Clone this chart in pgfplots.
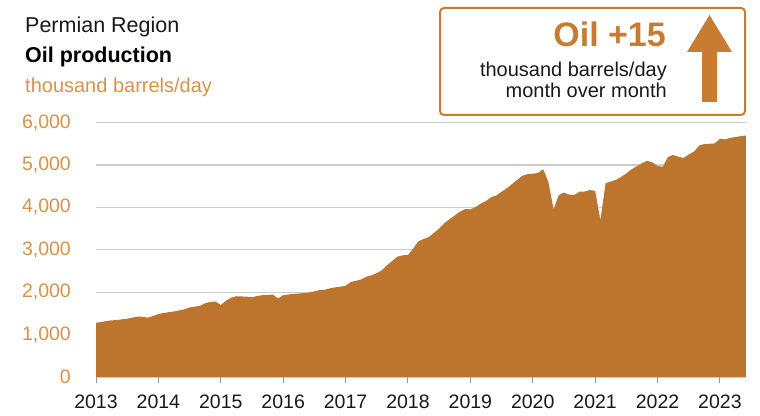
\documentclass[border=0pt]{standalone}
\usepackage{fontspec}
\setmainfont{Liberation Sans}
\usepackage{pgfplots}
\usepackage{pgfplotstable}
\pgfplotsset{compat=1.18}
\definecolor{oilfill}{RGB}{189,116,45}
\definecolor{lab}{RGB}{214,146,72}
\definecolor{boxc}{RGB}{200,124,50}
\definecolor{txt}{RGB}{25,25,25}
\pgfplotstableread{
v
1280
1295
1320
1335
1345
1360
1375
1400
1425
1420
1400
1440
1486
1510
1530
1545
1570
1596
1640
1660
1680
1740
1770
1780
1700
1800
1870
1905
1900
1895
1880
1910
1930
1935
1945
1850
1930
1945
1960
1970
1980
1990
2020
2050
2060
2090
2115
2130
2150
2240
2270
2300
2365
2400
2450
2520
2640
2740
2840
2870
2880
3030
3200
3255
3300
3400
3500
3630
3720
3810
3900
3960
3955
4010
4090
4150
4240
4280
4370
4450
4550
4650
4745
4785
4795
4810
4900
4600
3955
4290
4350
4300
4295
4370
4375
4410
4390
3700
4570
4610
4650
4720
4800
4900
4970
5040
5100
5060
4975
4960
5190
5236
5196
5165
5250
5314
5460
5495
5500
5510
5620
5605
5640
5660
5680
5695
}\oil
\begin{document}
\begin{tikzpicture}[x=1pt,y=1pt]
\path (0,0) rectangle (760,415);
\begin{axis}[
  at={(96pt,38pt)}, anchor=south west,
  scale only axis, width=650pt, height=254.4pt,
  xmin=2013, xmax=2023.417, ymin=0, ymax=6000,
  axis x line*=bottom, axis y line*=left,
  y axis line style={draw=none},
  x axis line style={draw=black!35, line width=1pt},
  xtick={2013,2014,...,2023},
  ytick={0,1000,...,6000},
  scaled y ticks=false,
  tick align=outside,
  xtick style={draw=black!40, line width=1pt},
  ytick style={draw=none},
  major tick length=6pt,
  ymajorgrids,
  grid style={draw=black!20, line width=1.3pt},
  /pgf/number format/assume math mode=true,
  xticklabel style={font=\fontsize{19.5}{22}\selectfont, text=txt, inner sep=0pt, yshift=-12pt, /pgf/number format/1000 sep={}},
  yticklabel style={font=\fontsize{19.5}{22}\selectfont, text=lab, inner sep=0pt, xshift=-19pt, /pgf/number format/1000 sep={,}},
]
\addplot[fill=oilfill, draw=none] table[x expr=2013+\coordindex/12, y=v] {\oil} \closedcycle;
\end{axis}
\node[anchor=base west, inner sep=0pt, font=\fontsize{21.5}{24}\selectfont, text=txt] at (25,382) {Permian Region};
\node[anchor=base west, inner sep=0pt, font=\fontsize{21.5}{24}\selectfont\bfseries, text=black] at (25,352) {Oil production};
\node[anchor=base west, inner sep=0pt, font=\fontsize{20}{24}\selectfont, text=lab] at (25,322) {thousand barrels/day};
\draw[boxc, line width=2pt, rounded corners=4pt] (440,300) rectangle (745,407);
\node[anchor=base east, inner sep=0pt, font=\fontsize{34}{36}\selectfont\bfseries, text=boxc] at (666,368) {Oil +15};
\node[anchor=base east, inner sep=0pt, font=\fontsize{20}{24}\selectfont, text=txt] at (667,338) {thousand barrels/day};
\node[anchor=base east, inner sep=0pt, font=\fontsize{20}{24}\selectfont, text=txt] at (667,317) {month over month};
\fill[boxc] (702,313) -- (717,313) -- (717,363) -- (732,363) -- (709.5,400) -- (687,363) -- (702,363) -- cycle;
\end{tikzpicture}
\end{document}
